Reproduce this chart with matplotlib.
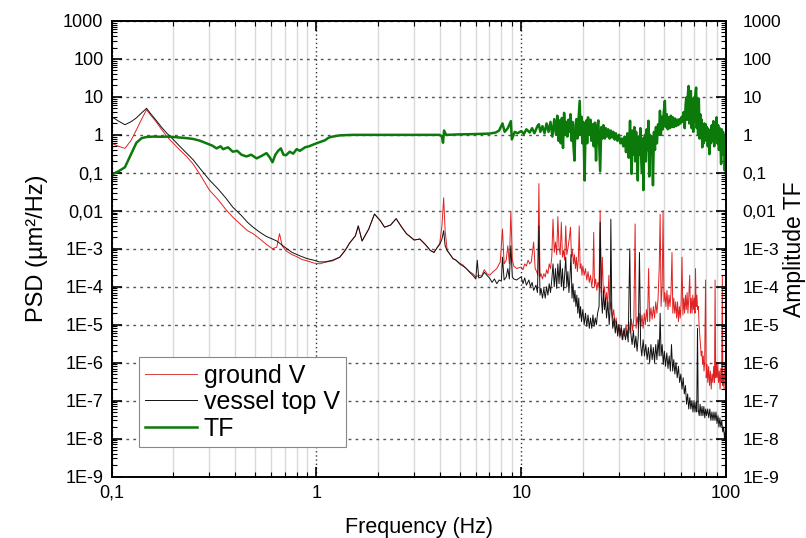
import numpy as np
import matplotlib
matplotlib.use("Agg")
import matplotlib.pyplot as plt
from matplotlib.ticker import LogLocator, FixedLocator, FixedFormatter, NullFormatter

plt.rcParams["font.family"] = ["Liberation Sans", "DejaVu Sans"]

# ground V (red): (frequency Hz, PSD um^2/Hz)
ground_pts = [
    (0.100, 0.60), (0.108, 0.50), (0.116, 0.44), (0.124, 0.70), (0.132, 1.35), (0.140, 2.6),
    (0.148, 4.6), (0.155, 3.3), (0.165, 2.2), (0.175, 1.4), (0.186, 0.9), (0.20, 0.6),
    (0.215, 0.4), (0.232, 0.27), (0.25, 0.17), (0.27, 0.09), (0.30, 0.035), (0.33, 0.02),
    (0.36, 0.011), (0.39, 0.0068), (0.43, 0.0042), (0.46, 0.003), (0.49, 0.0025), (0.53, 0.0018),
    (0.57, 0.0013), (0.61, 0.001), (0.64, 0.0011), (0.66, 0.0025), (0.68, 0.0012), (0.71, 0.00088),
    (0.76, 0.0007), (0.80, 0.00062), (0.85, 0.00052), (0.90, 0.00048), (0.97, 0.00042), (1.04, 0.0004),
    (1.1, 0.00044), (1.2, 0.00048), (1.3, 0.0006), (1.38, 0.0009), (1.45, 0.0014), (1.55, 0.0022),
    (1.6, 0.004), (1.67, 0.0016), (1.8, 0.0033), (1.92, 0.0082), (2.05, 0.0055), (2.15, 0.0037),
    (2.3, 0.0042), (2.45, 0.0062), (2.6, 0.0038), (2.75, 0.0025), (3.0, 0.0017), (3.2, 0.0018),
    (3.4, 0.0013), (3.6, 0.0009), (3.75, 0.0008), (3.9, 0.0011), (4.0, 0.0014), (4.1, 0.004),
    (4.18, 0.022), (4.25, 0.003), (4.35, 0.0009), (4.5, 0.0007), (4.64, 0.00055), (4.8, 0.0005),
    (5.0, 0.00042), (5.2, 0.00037), (5.4, 0.0003), (5.6, 0.00025), (5.8, 0.00022), (6.0, 0.00018),
    (6.2, 0.0002), (6.4, 0.00019), (6.6, 0.00028), (6.8, 0.00022), (7.0, 0.0002), (7.3, 0.00025),
    (7.6, 0.0003), (7.9, 0.00045), (8.1, 0.0033), (8.25, 0.0004), (8.45, 0.0005), (8.6, 0.0012),
    (8.75, 0.0004), (8.9, 0.0096), (9.05, 0.0005), (9.2, 0.00035), (9.5, 0.0003), (9.8, 0.00032),
    (10.0, 0.00033), (10.2, 0.00028), (10.4, 0.0004), (10.6, 0.00035), (10.8, 0.0005), (11.0, 0.0004),
    (11.2, 0.00045), (11.5, 0.0015), (11.7, 0.0003), (11.9, 0.00025), (12.05, 0.0002), (12.2, 0.052),
    (12.35, 0.00018), (12.5, 0.00022), (12.7, 0.00016), (12.9, 0.00022), (13.1, 0.00018), (13.3, 0.00028),
    (13.5, 0.00022), (13.7, 0.0004), (13.9, 0.0003), (14.1, 0.0006), (14.3, 0.006), (14.5, 0.0008),
    (14.7, 0.0015), (14.9, 0.0007), (15.1, 0.007), (15.3, 0.0011), (15.5, 0.0007), (15.7, 0.005),
    (15.9, 0.0006), (16.1, 0.0009), (16.3, 0.0005), (16.5, 0.004), (16.7, 0.0007), (16.9, 0.001),
    (17.2, 0.002), (17.4, 0.0037), (17.6, 0.0006), (17.8, 0.0009), (18.0, 0.0004), (18.2, 0.0007),
    (18.4, 0.0003), (18.6, 0.0006), (18.8, 0.00025), (19.0, 0.0005), (19.2, 0.004), (19.4, 0.0003),
    (19.6, 0.0004), (19.8, 0.0002), (20.0, 0.00035), (20.3, 0.0002), (20.6, 0.0003), (20.9, 0.00015),
    (21.2, 0.00025), (21.5, 0.00013), (21.8, 0.0002), (22.1, 0.0001), (22.4, 0.00018), (22.6, 0.0027),
    (22.8, 0.0001), (23.1, 0.00016), (23.4, 0.00008), (23.7, 0.00013), (24.0, 0.0001), (24.3, 0.01),
    (24.6, 0.00007), (24.9, 0.0006), (25.2, 0.00006), (25.5, 0.0001), (25.8, 0.00004), (26.1, 0.00007),
    (26.4, 0.00003), (26.8, 0.0002), (27.1, 0.000025), (27.5, 0.00004), (27.9, 0.000015), (28.3, 0.000025),
    (28.7, 0.00001), (29.1, 0.000015), (29.5, 0.000006), (29.9, 0.00001), (30.3, 0.0000045), (30.7, 0.000008),
    (31.1, 0.000004), (31.5, 0.000007), (32.0, 0.000005), (32.5, 0.00001), (33.0, 0.000005), (33.5, 0.000012),
    (34.0, 0.000006), (34.5, 0.000014), (35.0, 0.000007), (35.5, 0.000015), (36.0, 0.0045), (36.4, 0.000008),
    (36.9, 0.000016), (37.4, 0.000008), (37.9, 0.00002), (38.4, 0.000009), (38.9, 0.000018), (39.4, 0.000008),
    (39.9, 0.00002), (40.4, 0.00001), (40.9, 0.000025), (41.4, 0.000012), (41.9, 0.0003), (42.4, 0.000012),
    (43.0, 0.000028), (43.6, 0.000014), (44.2, 0.00003), (44.8, 0.000015), (45.4, 0.00004), (46.0, 0.00002),
    (46.6, 0.00005), (47.2, 0.0003), (47.7, 0.008), (48.2, 0.00003), (48.8, 0.0001), (49.3, 0.01),
    (49.8, 0.00004), (50.3, 0.00007), (50.9, 0.00003), (51.5, 0.00008), (52.1, 0.000025), (52.7, 0.00006),
    (53.3, 0.00003), (53.9, 0.00007), (54.5, 0.0008), (55.0, 0.00002), (55.6, 0.00005), (56.2, 0.00002),
    (56.8, 0.00004), (57.4, 0.000015), (58.0, 0.00004), (58.6, 0.000012), (59.2, 0.00003), (59.8, 0.000015),
    (60.4, 0.00004), (61.0, 0.0006), (61.6, 0.000018), (62.2, 0.00005), (62.8, 0.00002), (63.4, 0.00006),
    (64.0, 0.000025), (64.6, 0.00007), (65.2, 0.00002), (65.8, 0.00005), (66.5, 0.0002), (67.1, 0.00002),
    (67.7, 0.00005), (68.3, 0.00002), (68.9, 0.00006), (69.5, 0.000025), (70.1, 0.00005), (70.6, 0.00002),
    (71.0, 0.0003), (71.5, 0.00003), (72.1, 0.00006), (72.7, 0.000025), (73.3, 0.00003), (73.9, 0.00001),
    (74.5, 0.000005), (75.1, 0.000003), (75.7, 0.0000015), (76.3, 0.000002), (76.9, 0.0000009), (77.5, 0.0000015),
    (78.1, 0.0000006), (78.7, 0.000001), (79.5, 0.00015), (80.1, 0.0000004), (80.8, 0.0000009), (81.5, 0.0000003),
    (82.3, 0.0000008), (83.1, 0.00000025), (83.9, 0.0000006), (84.7, 0.0000002), (85.5, 0.0000005), (86.3, 0.0000003),
    (87.1, 0.0000008), (87.9, 0.0000003), (88.5, 0.00015), (89.1, 0.0000004), (89.8, 0.000001), (90.5, 0.0000004),
    (91.2, 0.0000009), (92.0, 0.0000003), (92.8, 0.0000006), (93.6, 0.0000002), (94.4, 0.0000007), (95.2, 0.0000003),
    (96.0, 0.0002), (96.5, 0.00000025), (97.2, 0.0000005), (97.9, 0.0000002), (98.6, 0.0000007), (99.3, 0.000001),
    (100.0, 0.0000005),
]

# vessel top V (black)
vessel_pts = [
    (0.100, 3.0), (0.108, 2.3), (0.116, 1.85), (0.124, 2.2), (0.132, 2.8), (0.140, 3.8),
    (0.148, 5.0), (0.155, 3.6), (0.165, 2.4), (0.175, 1.6), (0.186, 1.1), (0.20, 0.75),
    (0.215, 0.5), (0.232, 0.33), (0.25, 0.22), (0.27, 0.13), (0.30, 0.065), (0.33, 0.038),
    (0.36, 0.022), (0.39, 0.0125), (0.43, 0.0075), (0.46, 0.005), (0.49, 0.0037), (0.53, 0.0027),
    (0.57, 0.0021), (0.61, 0.0018), (0.64, 0.0016), (0.70, 0.0011), (0.76, 0.0008), (0.83, 0.00065),
    (0.90, 0.00055), (0.97, 0.0005), (1.03, 0.00045), (1.1, 0.00045), (1.2, 0.0005), (1.3, 0.0006),
    (1.38, 0.0009), (1.45, 0.0014), (1.55, 0.0022), (1.6, 0.004), (1.67, 0.0016), (1.8, 0.0033),
    (1.92, 0.0082), (2.05, 0.0055), (2.15, 0.0037), (2.3, 0.0042), (2.45, 0.0062), (2.6, 0.0038),
    (2.75, 0.0025), (3.0, 0.0017), (3.2, 0.0018), (3.4, 0.0013), (3.6, 0.0009), (3.75, 0.0008),
    (3.9, 0.0011), (4.0, 0.0013), (4.1, 0.0018), (4.18, 0.003), (4.25, 0.0012), (4.35, 0.0009),
    (4.5, 0.0007), (4.64, 0.00055), (4.8, 0.0005), (5.0, 0.0004), (5.2, 0.00035), (5.4, 0.0003),
    (5.6, 0.00024), (5.8, 0.0002), (6.0, 0.00016), (6.1, 0.0005), (6.2, 0.00017), (6.4, 0.00018),
    (6.6, 0.00024), (6.8, 0.0002), (7.0, 0.00017), (7.2, 0.00013), (7.4, 0.00016), (7.6, 0.00012),
    (7.8, 0.00015), (8.0, 0.00014), (8.1, 0.0006), (8.25, 0.00015), (8.45, 0.00018), (8.6, 0.0003),
    (8.75, 0.00016), (8.9, 0.0012), (9.05, 0.00018), (9.2, 0.00016), (9.5, 0.00015), (9.8, 0.00017),
    (10.0, 0.00018), (10.2, 0.00012), (10.4, 0.00017), (10.6, 0.00011), (10.9, 0.00015), (11.1, 0.0001),
    (11.3, 0.00013), (11.5, 0.00008), (11.8, 0.00011), (12.0, 0.00007), (12.2, 0.004), (12.35, 0.00006),
    (12.5, 0.00009), (12.7, 0.00005), (12.9, 0.00009), (13.1, 0.00005), (13.3, 0.0001), (13.5, 0.00006),
    (13.7, 0.00012), (13.9, 0.00007), (14.1, 0.00015), (14.3, 0.0004), (14.5, 0.0001), (14.7, 0.0003),
    (14.9, 0.00009), (15.1, 0.0004), (15.3, 0.00012), (15.5, 0.0005), (15.7, 0.0001), (15.9, 0.0003),
    (16.1, 0.00008), (16.3, 0.0002), (16.5, 0.0006), (16.7, 0.0001), (16.9, 0.00025), (17.1, 0.00007),
    (17.3, 0.00018), (17.5, 0.0007), (17.7, 0.00005), (17.9, 0.00012), (18.1, 0.00004), (18.3, 0.00008),
    (18.5, 0.00003), (18.7, 0.00006), (18.9, 0.00002), (19.1, 0.00005), (19.3, 0.000015), (19.5, 0.00003),
    (19.7, 0.000012), (20.0, 0.000025), (20.3, 0.00001), (20.6, 0.00002), (20.9, 0.000009), (21.2, 0.000018),
    (21.5, 0.000008), (21.8, 0.000015), (22.1, 0.000008), (22.4, 0.000018), (22.7, 0.000009), (23.0, 0.000015),
    (23.3, 0.00001), (23.6, 0.00002), (24.0, 0.00003), (24.3, 0.005), (24.6, 0.00006), (24.9, 0.00002),
    (25.2, 0.00008), (25.5, 0.000025), (25.8, 0.00005), (26.1, 0.000015), (26.5, 0.00004), (26.9, 0.00001),
    (27.2, 0.00003), (27.4, 0.006), (27.7, 0.00002), (28.0, 0.000008), (28.4, 0.000015), (28.8, 0.000006),
    (29.2, 0.000012), (29.6, 0.000005), (30.0, 0.00001), (30.4, 0.000005), (30.8, 0.000009), (31.3, 0.000004),
    (31.8, 0.000008), (32.3, 0.000004), (32.8, 0.000007), (33.3, 0.0000035), (33.9, 0.001), (34.3, 0.000006),
    (34.8, 0.000003), (35.3, 0.000007), (35.8, 0.0000025), (36.3, 0.000005), (36.8, 0.000002), (37.3, 0.000005),
    (37.8, 0.0008), (38.3, 0.000003), (38.8, 0.0000015), (39.4, 0.000004), (40.0, 0.0000015), (40.6, 0.000003),
    (41.2, 0.0000012), (41.8, 0.0000025), (42.4, 0.000001), (43.0, 0.000003), (43.6, 0.0000012), (44.2, 0.0000025),
    (44.8, 0.000001), (45.4, 0.000003), (46.0, 0.0000012), (46.6, 0.000004), (47.2, 0.0000015), (47.7, 0.00002),
    (48.2, 0.0000015), (48.8, 0.000003), (49.4, 0.0000009), (50.0, 0.000002), (50.7, 0.0000008), (51.4, 0.0000018),
    (52.1, 0.0000007), (52.8, 0.0000015), (53.5, 0.0000006), (54.2, 0.000003), (54.9, 0.0000006), (55.6, 0.0000012),
    (56.3, 0.0000005), (57.0, 0.000001), (57.8, 0.0000004), (58.6, 0.0000008), (59.4, 0.0000003), (60.2, 0.0000005),
    (61.0, 0.0000002), (61.8, 0.0000004), (62.6, 0.00000015), (63.4, 0.00000025), (64.2, 0.00000008), (65.0, 0.00000015),
    (65.8, 0.00000006), (66.6, 0.00000012), (67.4, 0.00000006), (68.2, 0.0000001), (69.0, 0.00000005), (69.8, 0.0000001),
    (70.6, 0.00000005), (71.4, 0.00000009), (72.0, 0.00000005), (72.6, 0.000008), (73.2, 0.00000006), (74.0, 0.00000004),
    (74.8, 0.00000008), (75.6, 0.00000004), (76.4, 0.00000007), (77.2, 0.00000004), (78.0, 0.00000007), (78.8, 0.000000035),
    (79.6, 0.00000006), (80.4, 0.00000004), (81.4, 0.00000006), (82.4, 0.000000035), (83.4, 0.00000006), (84.4, 0.00000003),
    (85.4, 0.00000005), (86.4, 0.00000003), (87.4, 0.00000005), (88.4, 0.00000003), (89.4, 0.00000005), (90.4, 0.000000025),
    (91.4, 0.00000004), (92.4, 0.00000002), (93.4, 0.000000035), (94.4, 0.00000002), (95.4, 0.00000003), (96.4, 0.000000015),
    (97.4, 0.00000002), (98.4, 0.00000001), (99.2, 0.000000015), (100.0, 0.000000008),
]

# TF amplitude (green, right axis)
tf_pts = [
    (0.100, 0.09), (0.108, 0.11), (0.116, 0.14), (0.124, 0.3), (0.132, 0.62), (0.140, 0.82),
    (0.148, 0.88), (0.16, 0.9), (0.175, 0.89), (0.186, 0.9), (0.20, 0.88), (0.215, 0.85),
    (0.232, 0.82), (0.25, 0.78), (0.27, 0.7), (0.29, 0.6), (0.31, 0.52), (0.325, 0.44),
    (0.34, 0.5), (0.35, 0.42), (0.37, 0.47), (0.39, 0.36), (0.41, 0.38), (0.43, 0.3),
    (0.455, 0.27), (0.48, 0.3), (0.51, 0.24), (0.54, 0.28), (0.57, 0.33), (0.59, 0.26),
    (0.61, 0.19), (0.63, 0.3), (0.65, 0.38), (0.67, 0.44), (0.69, 0.3), (0.71, 0.29),
    (0.74, 0.36), (0.77, 0.32), (0.80, 0.42), (0.83, 0.38), (0.88, 0.47), (0.92, 0.5),
    (0.96, 0.55), (1.0, 0.6), (1.05, 0.66), (1.1, 0.72), (1.15, 0.85), (1.2, 0.9),
    (1.3, 0.97), (1.5, 1.0), (2.0, 1.0), (3.0, 1.0), (4.0, 1.0), (4.1, 0.9),
    (4.15, 0.62), (4.2, 1.3), (4.3, 1.0), (5.0, 1.03), (6.0, 1.05), (7.0, 1.08),
    (7.5, 1.15), (7.8, 1.3), (8.1, 2.0), (8.3, 1.2), (8.6, 1.5), (8.9, 2.3),
    (9.0, 0.76), (9.3, 1.2), (9.6, 1.1), (10.0, 1.26), (10.3, 1.05), (10.6, 1.4),
    (11.0, 1.15), (11.3, 1.5), (11.6, 1.1), (12.0, 1.7), (12.2, 1.9), (12.4, 1.2),
    (12.7, 1.7), (13.0, 1.1), (13.3, 2.0), (13.6, 1.2), (13.9, 2.2), (14.2, 0.9),
    (14.5, 2.6), (14.8, 1.0), (15.0, 3.2), (15.2, 0.7), (15.4, 2.4), (15.6, 0.6),
    (15.8, 2.8), (16.0, 0.45), (16.2, 3.8), (16.4, 1.0), (16.6, 2.2), (16.8, 0.9),
    (17.0, 2.5), (17.2, 1.2), (17.4, 3.5), (17.6, 0.7), (17.8, 2.2), (18.0, 0.5),
    (18.2, 0.21), (18.4, 1.8), (18.6, 2.6), (18.8, 0.8), (19.0, 2.0), (19.3, 7.9),
    (19.5, 1.0), (19.7, 3.0), (19.9, 0.6), (20.1, 2.2), (20.4, 0.063), (20.6, 1.2),
    (20.8, 2.4), (21.0, 0.6), (21.2, 2.9), (21.5, 1.0), (21.8, 2.5), (22.0, 0.7),
    (22.3, 1.9), (22.6, 0.5), (22.9, 2.1), (23.2, 0.21), (23.5, 1.6), (23.8, 2.4),
    (24.0, 0.7), (24.3, 0.11), (24.6, 1.6), (24.9, 0.8), (25.2, 1.8), (25.6, 0.8),
    (25.9, 1.5), (26.2, 0.9), (26.6, 1.4), (27.0, 0.8), (27.4, 1.3), (27.8, 0.85),
    (28.2, 1.2), (28.6, 0.75), (29.0, 1.1), (29.5, 0.7), (30.0, 1.0), (30.5, 0.6),
    (31.0, 0.8), (31.5, 0.5), (32.0, 0.9), (32.5, 0.35), (33.0, 1.1), (33.5, 0.25),
    (34.0, 2.35), (34.3, 0.4), (34.6, 0.094), (34.9, 1.3), (35.3, 0.3), (35.7, 1.6),
    (36.0, 0.2), (36.4, 1.2), (36.8, 0.4), (37.1, 0.063), (37.4, 0.9), (37.8, 0.3),
    (38.2, 1.5), (38.6, 0.2), (38.9, 0.1), (39.2, 0.8), (39.5, 0.035), (39.8, 0.5),
    (40.2, 1.0), (40.6, 0.2), (41.0, 1.4), (41.4, 0.4), (41.8, 2.35), (42.2, 0.08),
    (42.6, 1.0), (43.0, 0.3), (43.5, 0.9), (44.0, 0.047), (44.5, 1.2), (45.0, 0.4),
    (45.5, 1.6), (46.0, 0.6), (46.6, 1.9), (47.1, 1.0), (47.6, 4.3), (48.1, 1.0),
    (48.6, 3.0), (49.1, 1.4), (49.7, 4.0), (50.3, 7.9), (50.8, 1.6), (51.4, 3.5),
    (52.0, 1.4), (52.6, 2.9), (53.2, 1.5), (53.8, 3.2), (54.4, 1.6), (55.0, 2.9),
    (55.7, 1.6), (56.4, 2.7), (57.1, 1.7), (57.8, 2.5), (58.5, 1.8), (59.2, 2.6),
    (60.0, 2.0), (60.8, 3.0), (61.5, 2.2), (62.2, 4.0), (62.9, 1.5), (63.5, 6.0),
    (64.0, 9.6), (64.6, 2.5), (65.2, 12.0), (65.7, 19.4), (66.2, 2.0), (66.8, 8.0),
    (67.4, 14.3), (68.0, 1.5), (68.6, 6.0), (69.2, 1.2), (69.7, 9.6), (70.3, 2.2),
    (70.9, 12.0), (71.5, 17.6), (72.0, 1.5), (72.6, 6.0), (73.1, 1.0), (73.7, 9.0),
    (74.3, 0.8), (74.9, 3.5), (75.5, 1.2), (76.1, 2.5), (76.6, 0.47), (77.2, 1.6),
    (77.8, 0.6), (78.4, 2.0), (79.0, 0.7), (79.6, 1.9), (80.2, 0.8), (80.8, 1.6),
    (81.5, 0.5), (82.2, 1.4), (83.0, 0.31), (83.7, 1.3), (84.5, 0.6), (85.2, 1.8),
    (86.0, 0.7), (86.8, 2.3), (87.6, 0.5), (88.4, 1.6), (89.2, 0.8), (90.0, 2.9),
    (90.8, 0.6), (91.6, 1.8), (92.4, 0.4), (93.2, 1.5), (94.0, 0.6), (94.7, 0.17),
    (95.4, 1.4), (96.1, 0.5), (96.8, 1.2), (97.5, 0.3), (98.2, 0.9), (98.7, 0.115),
    (99.3, 0.8), (99.7, 0.3), (100.0, 0.6),
]

y_ticks = [1e-9, 1e-8, 1e-7, 1e-6, 1e-5, 1e-4, 1e-3, 1e-2, 1e-1, 1, 10, 100, 1000]
y_labels = ["1E-9", "1E-8", "1E-7", "1E-6", "1E-5", "1E-4", "1E-3", "0,01", "0,1", "1", "10", "100", "1000"]
x_ticks = [0.1, 1, 10, 100]
x_labels = ["0,1", "1", "10", "100"]

ground_freq, ground_psd = zip(*ground_pts)
vessel_freq, vessel_psd = zip(*vessel_pts)
tf_freq, tf_amp = zip(*tf_pts)

fig = plt.figure(figsize=(8.06, 5.38), dpi=100)
fig.subplots_adjust(left=0.1386, right=0.9007, bottom=0.1143, top=0.961)
ax = fig.add_subplot(111)
ax2 = ax.twinx()

l1, = ax.plot(ground_freq, ground_psd, color="#e02222", lw=0.7, label="ground V")
l2, = ax.plot(vessel_freq, vessel_psd, color="#111111", lw=0.7, label="vessel top V")
l3, = ax2.plot(tf_freq, tf_amp, color="#0b7a0b", lw=1.8, label="TF")

for a in (ax, ax2):
    a.set_xscale("log")
    a.set_yscale("log")
    a.set_xlim(0.1, 100)
    a.set_ylim(1e-9, 1000)
    a.yaxis.set_major_locator(FixedLocator(y_ticks))
    a.yaxis.set_major_formatter(FixedFormatter(y_labels))
    a.yaxis.set_minor_locator(LogLocator(base=10, subs=np.arange(2, 10), numticks=30))
    a.yaxis.set_minor_formatter(NullFormatter())

ax.xaxis.set_major_locator(FixedLocator(x_ticks))
ax.xaxis.set_major_formatter(FixedFormatter(x_labels))
ax.xaxis.set_minor_locator(LogLocator(base=10, subs=np.arange(2, 10), numticks=10))
ax.xaxis.set_minor_formatter(NullFormatter())

# grid: light minor x lines, dotted decades
ax.grid(True, which="minor", axis="x", color="#d9d9d9", lw=1.0, ls="-")
ax.grid(True, which="major", axis="x", color="#333333", lw=1.0, ls=(0, (1, 2)))
ax.grid(True, which="major", axis="y", color="#555555", lw=1.0, ls=(0, (2, 3)))
ax.set_axisbelow(True)

ax.tick_params(axis="both", which="major", direction="in", length=7, width=1.2, labelsize=13)
ax.tick_params(axis="both", which="minor", direction="in", length=3.5, width=0.8)
ax.tick_params(axis="x", which="both", top=True)
ax.tick_params(axis="y", which="major", pad=6)
ax.tick_params(axis="x", which="major", pad=6)
ax2.tick_params(axis="y", which="major", direction="in", length=7, width=1.2, labelsize=12.5, pad=12)
ax2.tick_params(axis="y", which="minor", direction="in", length=3.5, width=0.8)

for a in (ax, ax2):
    for s in a.spines.values():
        s.set_linewidth(1.2)

ax.set_xlabel("Frequency (Hz)", fontsize=15.5, labelpad=11)
ax.set_ylabel("PSD (µm²/Hz)", fontsize=17, labelpad=11)
ax2.set_ylabel("Amplitude TF", fontsize=16.5, rotation=90, labelpad=1)

leg = ax2.legend(handles=[l1, l2, l3], loc="lower left", bbox_to_anchor=(0.044, 0.065),
                 borderaxespad=0, fontsize=18, frameon=True, fancybox=False,
                 edgecolor="#888888", framealpha=1, handlelength=2.1,
                 handletextpad=0.25, labelspacing=0.1, borderpad=0.25)
leg.get_frame().set_linewidth(0.8)
leg.get_lines()[0].set_color("#d84040")

plt.savefig("out.png", dpi=100)
